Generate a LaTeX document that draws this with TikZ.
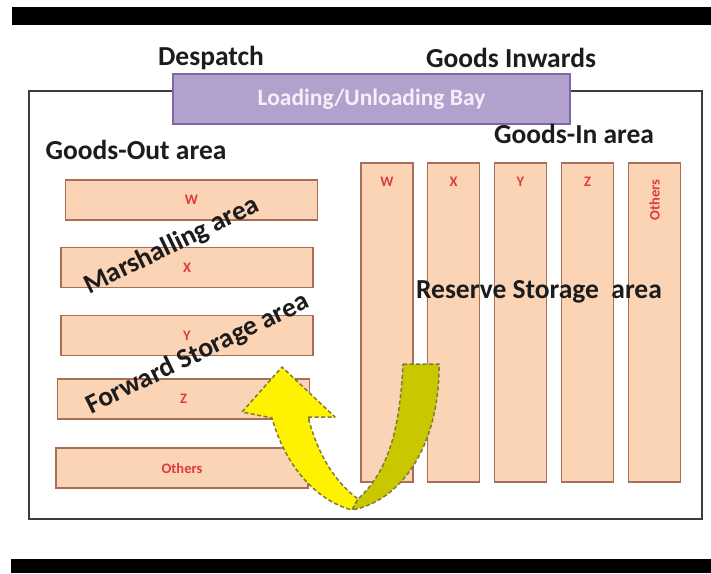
\documentclass[tikz,border=0pt]{standalone}
\usepackage{fontspec}
\setmainfont{Carlito}
\usetikzlibrary{positioning}
\definecolor{rackfill}{HTML}{FBD4B6}
\definecolor{rackline}{HTML}{A86E58}
\definecolor{tagred}{HTML}{E03A3A}
\definecolor{bayfill}{HTML}{B2A1CC}
\definecolor{bayline}{HTML}{7F68A6}
\definecolor{baytext}{HTML}{F4F0FA}
\definecolor{framegray}{HTML}{3C3C3C}
\definecolor{inkgray}{HTML}{1C1C1C}
\definecolor{olivefill}{HTML}{C9C800}
\definecolor{edgeolive}{HTML}{7C7A3C}

\begin{document}
\begin{tikzpicture}[x=1pt, y=-1pt,
  rack/.style={draw=rackline, line width=1.2pt, fill=rackfill, inner sep=0pt, text=tagred, font=\bfseries\fontsize{14.5}{16}\selectfont},
  row/.style={rack, minimum width=252pt, minimum height=40pt},
  col/.style={rack, minimum width=52pt, minimum height=319pt},
  tag/.style={text=tagred, inner sep=0pt, font=\bfseries\fontsize{14.5}{16}\selectfont},
  title/.style={text=inkgray, font=\bfseries\fontsize{27.5}{31}\selectfont},
  arrowedge/.style={draw=edgeolive, line width=1.5pt, dash pattern=on 4pt off 2.5pt, line join=round}]
\useasboundingbox (0,0) rectangle (711,573);
\fill[black] (12,7) rectangle (711,25);
\fill[black] (11,559) rectangle (711,573);
\node[draw=framegray, line width=1.6pt, minimum width=673pt, minimum height=428pt, inner sep=0pt] (yard) at (365.5,305) {};
\node[draw=bayline, line width=1.2pt, fill=bayfill, text=baytext, minimum width=397pt, minimum height=50pt, font=\bfseries\fontsize{23.5}{27}\selectfont] (bay) at (371.5,99) {Loading/Unloading Bay};
\node[title, anchor=base] (despatch) at (211,65) {Despatch};
\node[title, anchor=base] (inwards) at (511,67) {Goods Inwards};
\node[title, anchor=base] (outarea) at (136,159) {Goods-Out area};
\node[title, anchor=base] (inarea) at (574,143) {Goods-In area};

\node[row] (rW) at (191.5,200) {W};
\node[row] (rX) at (187,267.5) {X};
\node[row] (rY) at (187,335.5) {Y};
\node[row] (rZ) at (183.5,399) {Z};
\node[row] (rO) at (182,468) {Others};

\node[col] (cW) at (387,322.5) {};
\node[col] (cX) at (453.5,322.5) {};
\node[col] (cY) at (520.5,322.5) {};
\node[col] (cZ) at (587.5,322.5) {};
\node[col] (cO) at (654.5,322.5) {};
\node[tag, below=14pt of cW.north] (tW) {W};
\node[tag, below=14pt of cX.north] (tX) {X};
\node[tag, below=14pt of cY.north] (tY) {Y};
\node[tag, below=14pt of cZ.north] (tZ) {Z};
\node[tag, rotate=90] (tO) at (654.5,200) {Others};

\node[title, rotate=26] (marsh) at (172,246) {Marshalling area};
\node[title, rotate=26] (forward) at (198,354) {Forward Storage area};
\node[title] (reserve) at (539,292) {Reserve Storage\ \ area};

\draw[arrowedge, fill=yellow] (308,417) -- (335,417) -- (282,367) -- (242,412) -- (272,418) .. controls (285,465) and (315,500) .. (352,510) -- (358,499) .. controls (335,482) and (318,455) .. (308,417) -- cycle;
\draw[arrowedge, fill=olivefill] (403,364) -- (439,364) .. controls (440,440) and (405,500) .. (352,510) -- (358,499) .. controls (390,470) and (400,425) .. (403,364) -- cycle;
\end{tikzpicture}
\end{document}
